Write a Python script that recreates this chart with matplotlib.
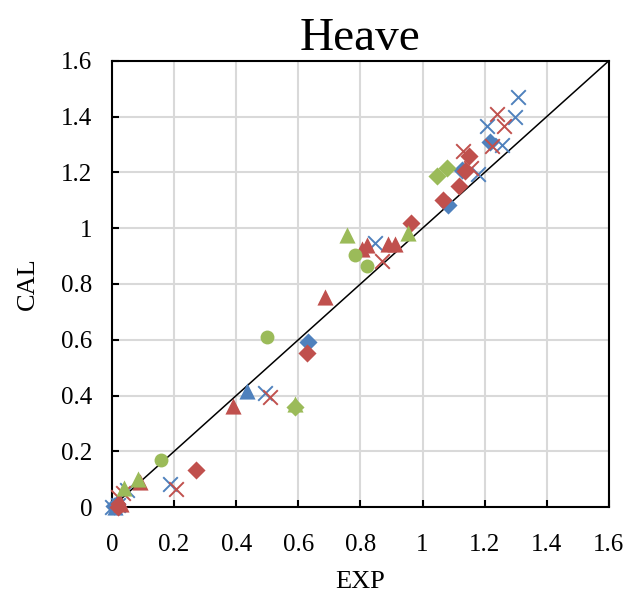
import matplotlib.pyplot as plt

plt.rcParams['font.family'] = ['Liberation Serif', 'DejaVu Serif']

BLUE = '#4F81BD'
RED = '#C0504D'
GREEN = '#9BBB59'

# blue series
blue_dia_x = [0.005, 0.015, 0.631, 1.082, 1.127, 1.217]
blue_dia_y = [0.005, 0.01, 0.592, 1.083, 1.209, 1.309]
blue_tri_x = [0.01, 0.435]
blue_tri_y = [0.0, 0.416]
blue_x_x = [0.0, 0.02, 0.048, 0.187, 0.493, 0.847, 1.18, 1.207, 1.256, 1.297, 1.307]
blue_x_y = [0.0, 0.008, 0.06, 0.082, 0.41, 0.947, 1.195, 1.368, 1.299, 1.399, 1.471]

# red series
red_dia_x = [0.02, 0.27, 0.627, 0.963, 1.066, 1.117, 1.137, 1.15]
red_dia_y = [0.0, 0.133, 0.552, 1.019, 1.101, 1.152, 1.205, 1.26]
red_tri_x = [0.03, 0.09, 0.39, 0.686, 0.805, 0.82, 0.889, 0.911]
red_tri_y = [0.01, 0.09, 0.362, 0.753, 0.927, 0.94, 0.945, 0.945]
red_x_x = [0.02, 0.035, 0.207, 0.509, 0.869, 1.131, 1.155, 1.223, 1.24, 1.262]
red_x_y = [0.035, 0.05, 0.067, 0.395, 0.884, 1.277, 1.215, 1.295, 1.41, 1.366]

# green series
green_dia_x = [0.59, 1.046, 1.078]
green_dia_y = [0.36, 1.186, 1.216]
green_tri_x = [0.04, 0.085, 0.589, 0.757, 0.953]
green_tri_y = [0.07, 0.1, 0.37, 0.976, 0.983]
green_cir_x = [0.158, 0.499, 0.782, 0.82]
green_cir_y = [0.169, 0.61, 0.904, 0.863]

ticks = [0, 0.2, 0.4, 0.6, 0.8, 1, 1.2, 1.4, 1.6]
tick_labels = ['0', '0.2', '0.4', '0.6', '0.8', '1', '1.2', '1.4', '1.6']

fig = plt.figure(figsize=(6.29, 5.96), dpi=100)
ax = fig.add_axes([0.178, 0.149, 0.79, 0.749])

ax.plot([0, 1.6], [0, 1.6], color='black', lw=1.1, zorder=2)

kw = dict(clip_on=False, zorder=3)
ax.scatter(blue_dia_x, blue_dia_y, marker='D', s=85, color=BLUE, linewidths=0, **kw)
ax.scatter(blue_tri_x, blue_tri_y, marker='^', s=135, color=BLUE, linewidths=0, **kw)
ax.scatter(blue_x_x, blue_x_y, marker='x', s=110, color=BLUE, linewidths=1.4, **kw)
ax.scatter(red_dia_x, red_dia_y, marker='D', s=85, color=RED, linewidths=0, **kw)
ax.scatter(red_tri_x, red_tri_y, marker='^', s=135, color=RED, linewidths=0, **kw)
ax.scatter(red_x_x, red_x_y, marker='x', s=110, color=RED, linewidths=1.4, **kw)
ax.scatter(green_dia_x, green_dia_y, marker='D', s=85, color=GREEN, linewidths=0, **kw)
ax.scatter(green_tri_x, green_tri_y, marker='^', s=135, color=GREEN, linewidths=0, **kw)
ax.scatter(green_cir_x, green_cir_y, marker='o', s=100, color=GREEN, linewidths=0, **kw)

ax.set_xlim(0, 1.6)
ax.set_ylim(0, 1.6)
ax.set_xticks(ticks)
ax.set_xticklabels(tick_labels)
ax.set_yticks(ticks)
ax.set_yticklabels(tick_labels)
ax.grid(True, color='#D9D9D9', lw=1.5)
ax.set_axisbelow(True)
ax.tick_params(direction='in', length=5, width=1.5, labelsize=18)
ax.tick_params(axis='x', pad=19)
ax.tick_params(axis='y', pad=14)
for sp in ax.spines.values():
    sp.set_linewidth(1.5)
    sp.set_color('black')

ax.set_title('Heave', fontsize=34, pad=8)
ax.set_xlabel('EXP', fontsize=19, labelpad=11)
ax.set_ylabel('CAL', fontsize=19, labelpad=16)

fig.savefig('out.png', dpi=100)
